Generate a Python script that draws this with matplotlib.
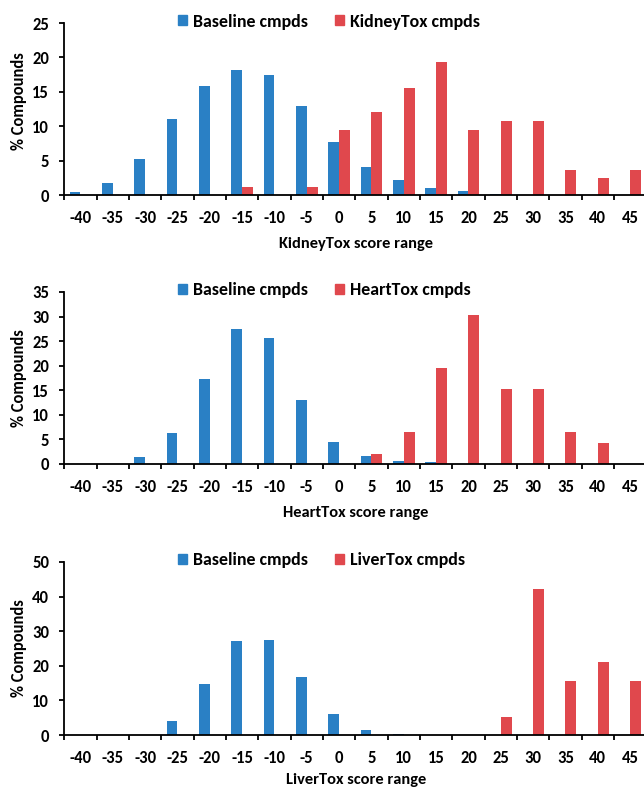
import numpy as np
import matplotlib.pyplot as plt
from matplotlib.patches import Patch

plt.rcParams['font.family'] = ['Carlito', 'DejaVu Sans']
plt.rcParams['font.weight'] = 'bold'

# score range categories
score_bins = [-40, -35, -30, -25, -20, -15, -10, -5, 0, 5, 10, 15, 20, 25, 30, 35, 40, 45]

# % compounds per bin
kidney_baseline = [0.4, 1.8, 5.2, 11.1, 15.9, 18.1, 17.5, 13.0, 7.7, 4.0, 2.2, 1.0, 0.6, 0.15, 0, 0, 0, 0]
kidney_tox = [0, 0, 0, 0, 0, 1.2, 0, 1.2, 9.5, 12.0, 15.6, 19.3, 9.5, 10.8, 10.8, 3.6, 2.4, 3.6]

heart_baseline = [0, 0, 1.5, 6.3, 17.2, 27.5, 25.7, 13.1, 4.5, 1.6, 0.7, 0.4, 0, 0, 0, 0, 0, 0]
heart_tox = [0, 0, 0, 0, 0, 0, 0, 0, 0, 2.1, 6.5, 19.5, 30.4, 15.2, 15.2, 6.5, 4.3, 0]

liver_baseline = [0, 0, 0, 4.1, 14.7, 27.3, 27.5, 16.8, 6.1, 1.5, 0.4, 0, 0, 0, 0, 0, 0, 0]
liver_tox = [0, 0, 0, 0, 0, 0, 0, 0, 0, 0, 0, 0, 0, 5.1, 42.1, 15.6, 21.0, 15.6]

blue = '#2A80C5'
red = '#E0484D'

W, H = 644, 789
fig = plt.figure(figsize=(W / 100, H / 100), dpi=100)
renderer = fig.canvas.get_renderer()


def fit_size(s, target_px, ref=10):
    # font size (pt) that makes string s about target_px wide
    t = fig.text(0, 0, s, fontsize=ref, weight='bold')
    w = t.get_window_extent(renderer).width
    t.remove()
    return ref * target_px / w


fs_tick = fit_size('-40', 21.7)
fs_leg = fit_size('Baseline cmpds', 115)
fs_xlab = fit_size('KidneyTox score range', 153)
fs_ylab = fit_size('% Compounds', 98)
px_leg = fs_leg * 100 / 72

# (name, baseline, tox, ymax, ystep, top_px, bottom_px, ylabel_y, xlabel_offset_px)
panels = [
    ('KidneyTox', kidney_baseline, kidney_tox, 25, 5, 23, 195, 0.547, 52.7),
    ('HeartTox', heart_baseline, heart_tox, 35, 5, 292, 464, 0.5, 52.7),
    ('LiverTox', liver_baseline, liver_tox, 50, 10, 562, 735, 0.5, 49.0),
]

left_px, right_px = 64.3, 646.3
x = np.arange(len(score_bins))
bw = 1 / 3

for name, base, tox, ymax, ystep, top, bot, ly, xoff in panels:
    hpx = bot - top
    ax = fig.add_axes([left_px / W, 1 - bot / H, (right_px - left_px) / W, hpx / H])
    ax.bar(x - bw / 2, base, width=bw, color=blue)
    ax.bar(x + bw / 2, tox, width=bw, color=red)
    ax.set_xlim(-0.5, len(score_bins) - 0.5)
    ax.set_ylim(0, ymax)
    ax.set_yticks(np.arange(0, ymax + 1, ystep))
    # tick marks between categories, labels at centres
    ax.set_xticks(np.arange(len(score_bins) + 1) - 0.5)
    ax.set_xticklabels([])
    ax.set_xticks(x, minor=True)
    ax.set_xticklabels([str(s) for s in score_bins], minor=True)
    ax.tick_params(axis='x', which='major', length=3.5, width=1.3, direction='out')
    ax.tick_params(axis='x', which='minor', length=0, pad=28.3 * 0.72, labelsize=fs_tick)
    plt.setp(ax.get_xticklabels(minor=True), va='baseline')
    ax.tick_params(axis='y', length=3.5, width=1.3, direction='out', labelsize=fs_tick, pad=7.5)
    for s in ['top', 'right']:
        ax.spines[s].set_visible(False)
    for s in ['left', 'bottom']:
        ax.spines[s].set_linewidth(1.3)
    ax.set_xlabel(f'{name} score range', fontsize=fs_xlab, fontweight='bold')
    ax.xaxis.set_label_coords((356 - left_px) / (right_px - left_px), -xoff / hpx)
    ax.xaxis.label.set_va('baseline')
    ax.set_ylabel('% Compounds', fontsize=fs_ylab, fontweight='bold')
    ax.yaxis.set_label_coords(-(left_px - 19) / (right_px - left_px), ly)
    ax.yaxis.label.set_va('center')
    handles = [Patch(color=blue, label='Baseline cmpds'), Patch(color=red, label=f'{name} cmpds')]
    ax.legend(handles=handles, loc='center left', bbox_to_anchor=(178 / W, 1 - (top - 1.5) / H),
              bbox_transform=fig.transFigure, ncol=2, frameon=False, fontsize=fs_leg,
              handlelength=9 / px_leg, handleheight=9 / px_leg, handletextpad=6 / px_leg,
              columnspacing=27 / px_leg, borderaxespad=0, borderpad=0)

fig.savefig('out.png', dpi=100)
